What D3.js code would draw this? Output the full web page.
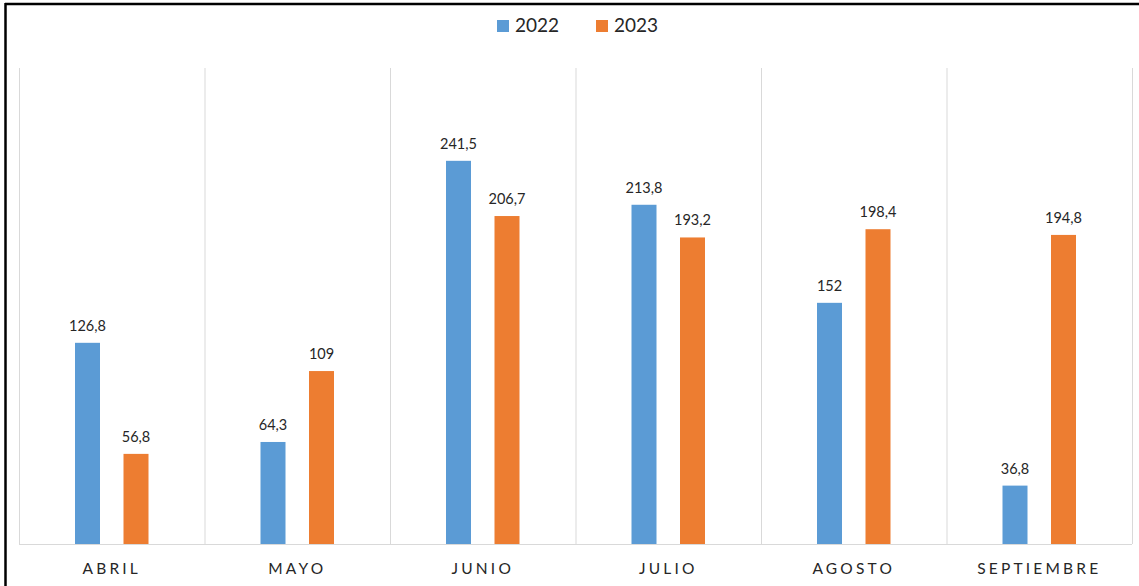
<!DOCTYPE html>
<html><head><meta charset="utf-8">
<script src="https://cdn.jsdelivr.net/npm/d3@7"></script>
<style>
html,body{margin:0;padding:0;background:#fff;}
svg{display:block;}
text{font-family:Lato,"Open Sans",sans-serif;}
</style></head>
<body><svg id="c" width="1139" height="586"></svg>
<script>
const categories = ["ABRIL","MAYO","JUNIO","JULIO","AGOSTO","SEPTIEMBRE"];
const series = ["2022","2023"];
const values2022 = [126.8, 64.3, 241.5, 213.8, 152, 36.8];
const values2023 = [56.8, 109, 206.7, 193.2, 198.4, 194.8];
const labels2022 = ["126,8","64,3","241,5","213,8","152","36,8"];
const labels2023 = ["56,8","109","206,7","193,2","198,4","194,8"];
const colors = ["#5B9BD5","#ED7D31"];
const yMax = 300;

const svg = d3.select("#c");
const W = 1139, H = 586;
const m = {left:19, right:1132, top:68, bottom:544};

// frame
svg.append("line").attr("x1",5).attr("x2",W).attr("y1",4).attr("y2",4).attr("stroke","#000").attr("stroke-width",2.5);
svg.append("line").attr("x1",5.5).attr("x2",5.5).attr("y1",3).attr("y2",H).attr("stroke","#000").attr("stroke-width",2.5);

const x0 = d3.scaleBand().domain(categories).range([m.left, m.right]).padding(0);
const step = 48.5, bw = 25;
const pi = 1 - bw/step;
const po = (x0.bandwidth()/step - 2 + pi)/2;
const x1 = d3.scaleBand().domain(series).range([0, x0.bandwidth()]).paddingInner(pi).paddingOuter(po);
const y = d3.scaleLinear().domain([0, yMax]).range([m.bottom, m.top]);

// vertical separators
const bounds = categories.map(c => x0(c)).concat([m.right]);
svg.append("g").selectAll("line").data(bounds).join("line")
  .attr("x1",d=>d+0.5).attr("x2",d=>d+0.5).attr("y1",y(yMax)).attr("y2",y(0))
  .attr("stroke","#d9d9d9").attr("stroke-width",1);

// bars
const allVals = [values2022, values2023];
const allLabels = [labels2022, labels2023];
series.forEach((s, si) => {
  const g = svg.append("g");
  const data = categories.map((c,i)=>({c, v:allVals[si][i], l:allLabels[si][i]}));
  g.selectAll("rect").data(data).join("rect")
    .attr("x", d => x0(d.c) + x1(s))
    .attr("width", x1.bandwidth())
    .attr("y", d => y(d.v))
    .attr("height", d => y(0) - y(d.v))
    .attr("fill", colors[si]);
  g.selectAll("text").data(data).join("text")
    .attr("x", d => x0(d.c) + x1(s) + x1.bandwidth()/2)
    .attr("y", d => y(d.v) - 12)
    .attr("text-anchor","middle")
    .attr("font-size",14.5)
    .attr("fill","#262626")
    .text(d => d.l);
});

// baseline
svg.append("line").attr("x1",m.left).attr("x2",m.right).attr("y1",y(0)+0.5).attr("y2",y(0)+0.5)
  .attr("stroke","#d9d9d9").attr("stroke-width",1);

// x axis labels
const xAxis = d3.axisBottom(x0).tickSize(0).tickPadding(0);
const ax = svg.append("g").attr("transform",`translate(0,${y(0)})`).call(xAxis);
ax.select(".domain").remove();
ax.selectAll("text")
  .attr("dy",null).attr("y",30)
  .attr("font-family","Lato, 'Open Sans', sans-serif")
  .attr("font-size",15.5).attr("fill","#262626")
  .attr("letter-spacing","3.2px");

// legend
const leg = svg.append("g");
const legX = [497, 596];
series.forEach((s,i)=>{
  leg.append("rect").attr("x",legX[i]).attr("y",20).attr("width",12).attr("height",12).attr("fill",colors[i]);
  leg.append("text").attr("x",legX[i]+18).attr("y",32).attr("font-size",19).attr("fill","#262626").text(s);
});
</script></body></html>
